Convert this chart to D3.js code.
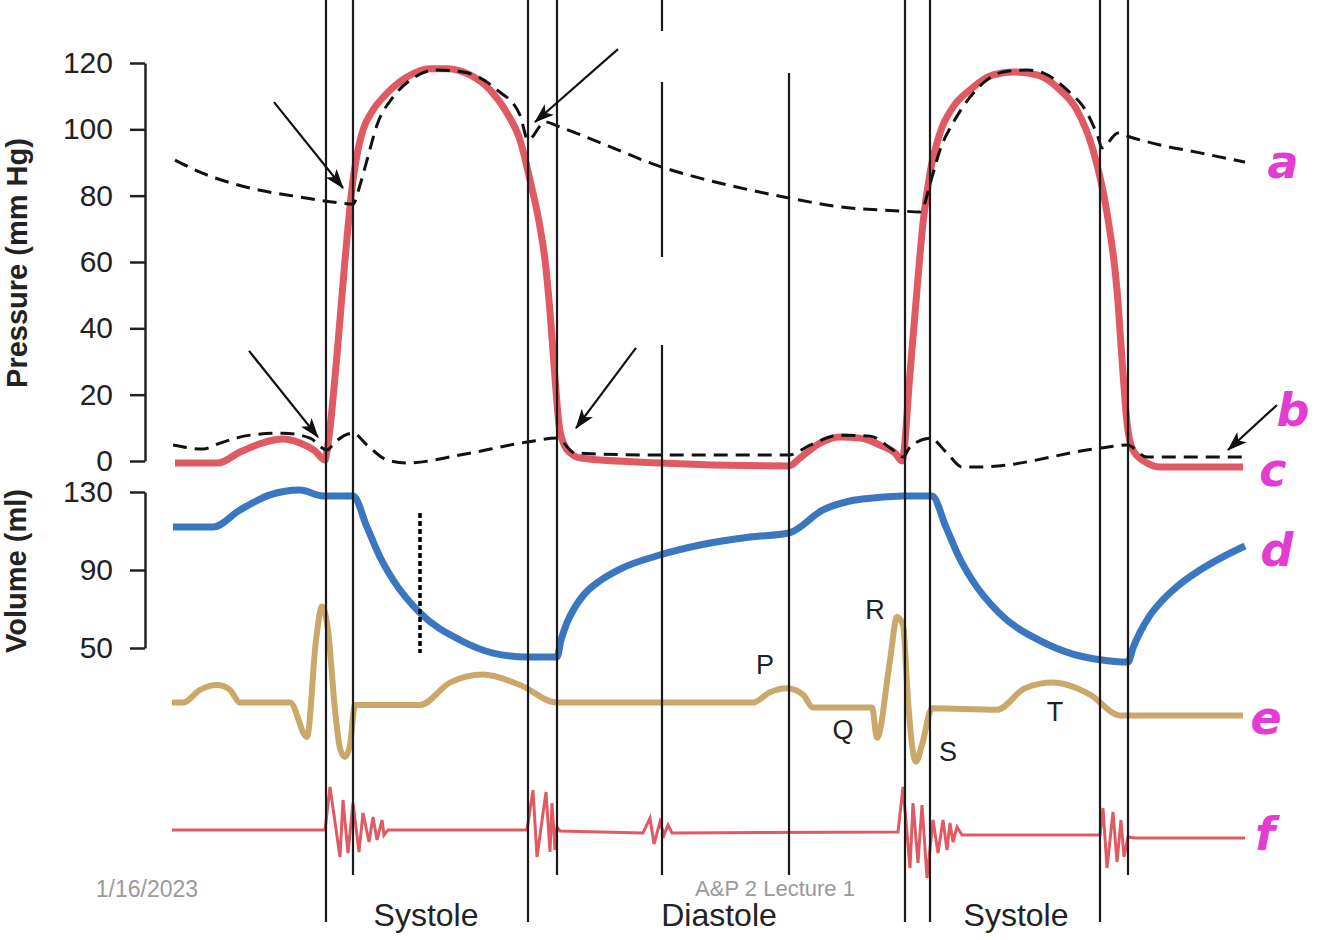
<!DOCTYPE html>
<html><head><meta charset="utf-8">
<script src="https://cdn.jsdelivr.net/npm/d3@7"></script>
<style>body{margin:0;background:#fff;} svg{display:block;}</style>
</head><body>
<svg id="c" width="1334" height="940"></svg>
<script>
// ---- data (time in ms, pressure mmHg, volume ml, ECG mV, sound amplitude a.u.) ----
const pressureTicks = [0, 20, 40, 60, 80, 100, 120];
const volumeTicks = [50, 90, 130];

const aorticPressure = [[3,90.7],[28,87.1],[78,82.3],[128,79.6],[168,77.8],[181,77.5],[188,83.2],[195,90.7],[205,101.3],[221,109.7],[240,115.2],[263,117.9],[291,117.3],[325,111.9],[348,104.3],[356,96.8],[373,102.2],[388,100.7],[428,96.0],[490,88.6],[528,85.3],[578,81.7],[617,79.3],[668,76.6],[728,75.4],[748,75.1],[760,85.6],[768,93.8],[781,101.9],[798,109.7],[815,114.9],[831,117.3],[855,117.9],[871,117.0],[895,111.9],[915,105.0],[926,97.7],[930,94.4],[946,98.9],[958,97.7],[988,95.3],[1028,92.9],[1073,90.1]];

const ventricularPressure = [[3,-0.6],[46,-0.6],[68,2.7],[90,5.4],[111,6.6],[128,5.4],[143,3.0],[153,0.3],[155,3],[165,32],[173,60.6],[181,84.7],[186,93.8],[191,99.8],[201,105.8],[215,110.9],[235,115.8],[258,118.3],[275,118.3],[298,116.4],[318,111.9],[335,104.9],[348,96.8],[358,84.7],[368,70.5],[373,60.6],[378,45],[383,25],[387,11],[392,5],[400,2],[410,0.8],[488,-0.6],[617,-1.5],[628,0.9],[648,5.4],[668,7.2],[688,6.9],[708,4.8],[723,2.4],[730,0],[738,26.5],[745,51.6],[751,71.8],[758,86.8],[768,98.9],[781,106.7],[798,111.9],[821,116.4],[841,117.3],[865,116.4],[888,111.9],[905,105.8],[921,93.8],[935,74.8],[945,51.6],[951,26.5],[955,11.5],[961,3.3],[975,-0.6],[988,-1.8],[1071,-1.8]];

const atrialPressure = [[1,4.8],[31,3.6],[48,5.4],[78,7.8],[111,8.4],[138,6.9],[155,3.3],[163,5.7],[181,8.4],[195,4.8],[215,0.3],[235,-0.6],[288,1.8],[355,5.7],[385,6.9],[403,2.4],[488,1.8],[617,1.8],[638,4.8],[668,7.8],[698,7.5],[721,3.3],[731,1.2],[738,4.2],[758,6.9],[775,2.4],[790,-1.8],[808,-1.8],[928,3.9],[955,4.8],[975,1.2],[1073,1.2]];

const ventricularVolume = [[1,112],[41,112],[68,120.8],[98,128.5],[128,131],[151,128],[181,128],[195,112],[208,96.7],[221,85],[248,68],[288,54.1],[321,47.4],[355,45.4],[385,45.4],[389,54],[395,63],[403,71],[413,78],[428,84.5],[448,90.5],[488,97.7],[528,102.8],[578,106.9],[617,109],[651,120.8],[678,125.4],[701,126.9],[731,128],[760,128],[774,112],[787,96.7],[800,85],[827,68],[867,54],[900,47],[928,44],[956,42.8],[961,50],[968,58],[977,66],[988,73.1],[1005,81.5],[1028,90],[1050,96.5],[1073,102.3]];

const ecg = [[0,0.03],[11,0.03],[28,0.19],[45,0.25],[58,0.19],[68,0.03],[118,0.03],[135,-0.4],[144,0.81],[150,1.23],[156,0.94],[163,-0.06],[168,-0.54],[173,-0.65],[178,-0.5],[183,0],[248,0],[278,0.28],[311,0.38],[348,0.25],[385,0.03],[581,0.03],[598,0.16],[615,0.21],[631,0.13],[641,-0.03],[700,-0.03],[705,-0.41],[718,0.56],[725,1.1],[731,1.0],[736,0.06],[740,-0.5],[744,-0.71],[750,-0.5],[760,-0.04],[825,-0.06],[853,0.21],[881,0.28],[918,0.13],[948,-0.13],[1071,-0.13]];

const heartSounds = [[0,0],[153,0],[158,10.75],[168,-6.75],[171,7.5],[176,-5.75],[181,6.75],[187,-5.5],[191,4.25],[197,-3],[201,3.25],[205,-2.5],[210,2.5],[212,-1.25],[216,0],[355,0],[361,10],[365,-6.75],[374,9.5],[378,-5.5],[380,6.75],[383,-5],[385,0.75],[388,-0.25],[471,-0.75],[478,3],[482,-3.5],[488,2],[492,-1.25],[496,1.25],[500,-0.75],[726,-0.5],[731,10.75],[738,-9.5],[741,6.75],[746,-8.25],[750,6.25],[755,-12],[761,2.5],[766,-5.75],[771,2.5],[775,-5],[778,1.75],[781,-3],[785,0.75],[790,-1.25],[928,-1.25],[931,5.5],[935,-9.5],[941,4.5],[945,-8],[949,2.5],[952,-6.75],[956,-1.75],[963,-2],[1073,-2]];

// valve / event times (ms)
const eventTimes = [154, 181, 356, 385, 490, 617, 733, 758, 928, 956];
const ecgLabels = [["P",593,0.5],["Q",671,-0.31],["R",703,1.19],["S",776,-0.59],["T",883,-0.09]];
const phaseLabels = [["Systole",254],["Diastole",547],["Systole",844]];
const curveLetters = ["a","b","c","d","e","f"];
// arrows: [t0, P0, t1, P1]
const arrows = [[102,108.2,171,82.3],[446,124.2,363,102.2],[77,33.2,146,7.2],[464,34.1,404,9.9],[1105,16.9,1056,3.3]];
const markerTime = 248, markerVolRange = [119.2, 47.4];

// ---- drawing ----
const svg = d3.select("#c");
const FONT = "'Liberation Sans', Arial, Helvetica, sans-serif";
const x = d3.scaleLinear().domain([0,1073]).range([172,1245]);
const yP = d3.scaleLinear().domain([0,120]).range([461,63]);
const yV = d3.scaleLinear().domain([50,130]).range([648,492]);
const yE = d3.scaleLinear().domain([-1,1.5]).range([785,585]);
const yS = d3.scaleLinear().domain([-12,12]).range([878,782]);

const defs = svg.append("defs");
defs.append("marker").attr("id","ah").attr("viewBox","0 0 20 14").attr("refX",19).attr("refY",7)
  .attr("markerWidth",20).attr("markerHeight",14).attr("markerUnits","userSpaceOnUse").attr("orient","auto")
  .append("path").attr("d","M0,0 L20,7 L0,14 L5,7 Z").attr("fill","#111");

function styleAxis(g){
  g.select(".domain").attr("stroke","#222").attr("stroke-width",2.5);
  g.selectAll(".tick line").attr("stroke","#222").attr("stroke-width",2.5);
  g.selectAll(".tick text").attr("font-size",30).attr("font-family",FONT).attr("fill","#222");
}
svg.append("g").attr("transform","translate(145,0)")
  .call(d3.axisLeft(yP).tickValues(pressureTicks).tickSize(15).tickSizeOuter(0).tickPadding(17)).call(styleAxis);
svg.append("g").attr("transform","translate(145,0)")
  .call(d3.axisLeft(yV).tickValues(volumeTicks).tickSize(15).tickSizeOuter(0).tickPadding(17)).call(styleAxis);

svg.append("text").attr("transform","translate(27,263) rotate(-90)").attr("text-anchor","middle")
  .attr("font-family",FONT).attr("font-weight","bold").attr("font-size",29).attr("fill","#222").text("Pressure (mm Hg)");
svg.append("text").attr("transform","translate(26,571) rotate(-90)").attr("text-anchor","middle")
  .attr("font-family",FONT).attr("font-weight","bold").attr("font-size",29).attr("fill","#222").text("Volume (ml)");

const lineP = d3.line().x(d=>x(d[0])).y(d=>yP(d[1])).curve(d3.curveMonotoneX);
const lineV = d3.line().x(d=>x(d[0])).y(d=>yV(d[1])).curve(d3.curveMonotoneX);
const lineE = d3.line().x(d=>x(d[0])).y(d=>yE(d[1])).curve(d3.curveMonotoneX);
const lineS = d3.line().x(d=>x(d[0])).y(d=>yS(d[1]));

svg.append("path").attr("d",lineV(ventricularVolume)).attr("fill","none").attr("stroke","#3a77c0").attr("stroke-width",7);
svg.append("path").attr("d",lineE(ecg)).attr("fill","none").attr("stroke","#c9a86a").attr("stroke-width",6).attr("stroke-linejoin","round");
svg.append("path").attr("d",lineS(heartSounds)).attr("fill","none").attr("stroke","#e05a64").attr("stroke-width",3);
svg.append("path").attr("d",lineP(ventricularPressure)).attr("fill","none").attr("stroke","#e05a64").attr("stroke-width",7);
svg.append("path").attr("d",lineP(aorticPressure)).attr("fill","none").attr("stroke","#111").attr("stroke-width",3).attr("stroke-dasharray","14,8");
svg.append("path").attr("d",lineP(atrialPressure)).attr("fill","none").attr("stroke","#111").attr("stroke-width",3).attr("stroke-dasharray","14,8");

// event lines (segments in px)
const segs = {154:[[0,922]],181:[[0,875]],356:[[0,922]],385:[[0,875]],490:[[0,31],[82,257],[345,875]],617:[[73,875]],733:[[0,922]],758:[[0,922]],928:[[0,922]],956:[[0,875]]};
eventTimes.forEach(t=>{
  segs[t].forEach(s=>{
    svg.append("line").attr("x1",x(t)).attr("x2",x(t)).attr("y1",s[0]).attr("y2",s[1]).attr("stroke","#1a1a1a").attr("stroke-width",2.2);
  });
});

svg.append("line").attr("x1",x(markerTime)).attr("x2",x(markerTime)).attr("y1",yV(markerVolRange[0])).attr("y2",yV(markerVolRange[1]))
  .attr("stroke","#000").attr("stroke-width",3.5).attr("stroke-dasharray","5,3");

arrows.forEach(a=>{
  svg.append("line").attr("x1",x(a[0])).attr("y1",yP(a[1])).attr("x2",x(a[2])).attr("y2",yP(a[3]))
    .attr("stroke","#111").attr("stroke-width",2.2).attr("marker-end","url(#ah)");
});

ecgLabels.forEach(l=>{
  svg.append("text").attr("x",x(l[1])).attr("y",yE(l[2])).attr("text-anchor","middle").attr("dominant-baseline","central")
    .attr("font-family",FONT).attr("font-size",27).attr("fill","#222").text(l[0]);
});
phaseLabels.forEach(l=>{
  svg.append("text").attr("x",x(l[1])).attr("y",926).attr("text-anchor","middle")
    .attr("font-family",FONT).attr("font-size",32).attr("fill","#222").text(l[0]);
});
svg.append("text").attr("x",147).attr("y",897).attr("text-anchor","middle").attr("font-family",FONT).attr("font-size",23).attr("fill","#9a9a9a").text("1/16/2023");
svg.append("text").attr("x",775).attr("y",896).attr("text-anchor","middle").attr("font-family",FONT).attr("font-size",22).attr("fill","#9a9a9a").text("A&P 2 Lecture 1");

const letterPos = [[1283,162],[1293,410],[1273,470],[1277,550],[1266,718],[1265,834]];
curveLetters.forEach((c,i)=>{
  svg.append("text").attr("x",letterPos[i][0]).attr("y",letterPos[i][1]).attr("text-anchor","middle").attr("dominant-baseline","central")
    .attr("font-family","'DejaVu Sans', sans-serif").attr("font-weight","bold").attr("font-style","italic").attr("font-size",46).attr("fill","#e43bd3").text(c);
});
</script>
</body></html>
